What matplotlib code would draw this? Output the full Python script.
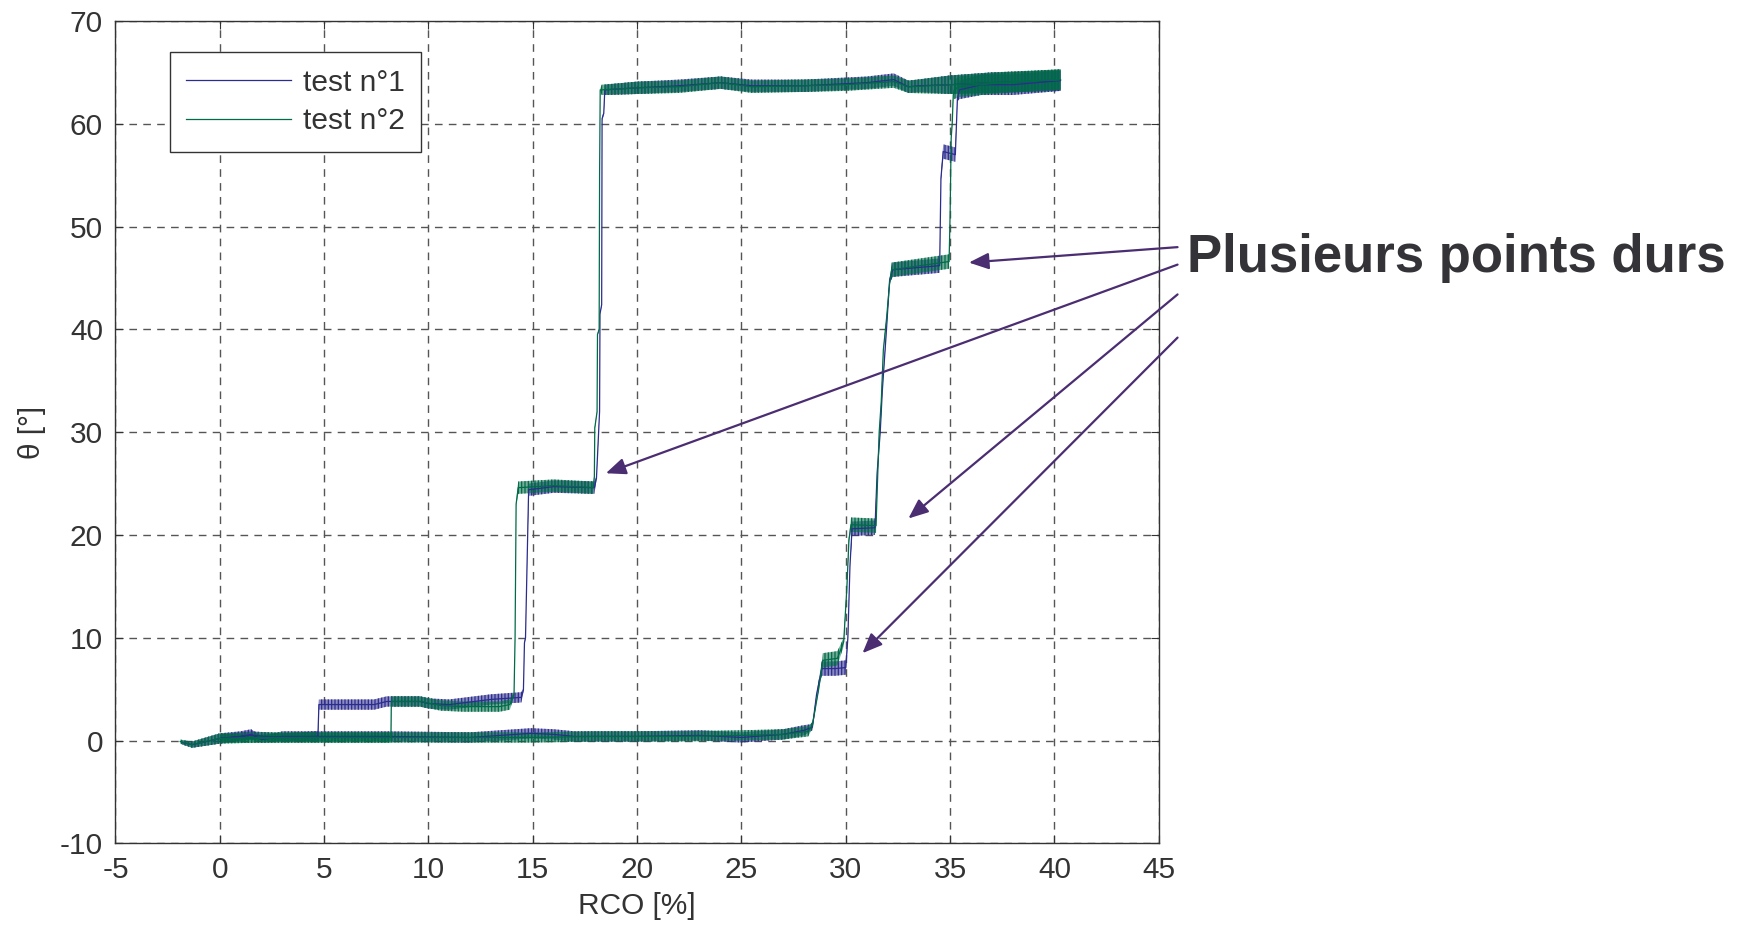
import numpy as np
import matplotlib
matplotlib.use('Agg')
import matplotlib.pyplot as plt
from matplotlib.colors import to_rgba

plt.rcParams['font.family'] = ['Liberation Sans', 'DejaVu Sans']
plt.rcParams['axes.unicode_minus'] = False
plt.rcParams['hatch.linewidth'] = 0.9

# essai 1 : montee (RCO croissant) puis descente
t1_up_x = [-1.8, -1.3, 0.0, 1.0, 1.5, 2.0, 3.0, 4.7, 8.0, 12.0, 14.9, 16.0, 17.0, 20.0,
           23.0, 25.0, 27.0, 28.0, 28.4, 28.6, 28.85, 29.5, 30.0, 30.1, 30.2, 30.3, 31.4,
           31.5, 31.65, 31.75, 31.95, 32.1, 32.25, 34.5, 34.56, 34.67, 35.25, 35.35, 35.45,
           36.5, 38.0, 40.3]
t1_up_y = [-0.2, -0.4, 0.2, 0.4, 0.6, 0.1, 0.4, 0.4, 0.4, 0.3, 0.7, 0.6, 0.4, 0.4,
           0.5, 0.3, 0.6, 1.0, 1.3, 4.5, 7.0, 7.0, 7.1, 10.0, 17.0, 20.6, 20.7,
           26.0, 30.0, 34.0, 40.0, 44.8, 45.8, 46.2, 54.7, 57.3, 57.0, 62.5, 63.3,
           63.8, 63.8, 64.2]
t1_up_w = [0.2, 0.3, 0.5, 0.5, 0.5, 0.3, 0.5, 0.5, 0.5, 0.5, 0.5, 0.5, 0.5, 0.5,
           0.5, 0.5, 0.5, 0.5, 0.3, 0.1, 0.7, 0.7, 0.7, 0.2, 0.2, 0.7, 0.7,
           0.2, 0.2, 0.2, 0.2, 0.3, 0.7, 0.7, 0.2, 0.7, 0.7, 0.3, 0.9,
           1.0, 1.0, 1.0]
t1_down_x = [40.3, 37.0, 35.0, 33.5, 33.0, 32.3, 31.0, 28.0, 25.5, 24.0, 22.0, 20.0,
             18.45, 18.4, 18.32, 18.3, 18.22, 18.2, 18.05, 17.95, 16.0, 14.8, 14.65,
             14.6, 14.55, 14.45, 13.0, 11.0, 10.0, 9.6, 8.0, 7.4, 4.75, 4.7, 3.0, 1.5, 0.0]
t1_down_y = [64.2, 64.0, 63.8, 63.7, 63.6, 64.3, 64.0, 63.7, 63.7, 64.0, 63.7, 63.5,
             63.3, 61.0, 60.5, 42.4, 41.5, 32.0, 25.5, 24.6, 24.7, 24.4, 10.0,
             9.5, 4.9, 4.2, 4.0, 3.5, 3.6, 3.8, 3.8, 3.5, 3.5, 0.4, 0.3, 0.5, 0.2]
t1_down_w = [1.0, 1.0, 0.9, 0.6, 0.6, 0.6, 0.6, 0.6, 0.6, 0.6, 0.6, 0.6,
             0.5, 0.2, 0.2, 0.1, 0.1, 0.1, 0.2, 0.6, 0.6, 0.6, 0.1,
             0.1, 0.2, 0.5, 0.5, 0.5, 0.5, 0.5, 0.5, 0.5, 0.5, 0.5, 0.4, 0.4, 0.4]

# essai 2
t2_up_x = [-1.9, -1.35, 0.0, 2.0, 4.0, 8.0, 12.0, 15.0, 18.0, 22.0, 25.0, 27.0, 28.2,
           28.4, 28.7, 28.9, 29.6, 29.9, 30.05, 30.15, 30.25, 31.45, 31.5, 31.6, 31.7,
           31.8, 31.95, 32.1, 32.2, 34.95, 35.0, 35.05, 35.1, 35.15, 35.2, 35.4, 37.0, 40.3]
t2_up_y = [-0.1, -0.4, 0.2, 0.3, 0.3, 0.3, 0.3, 0.3, 0.4, 0.4, 0.5, 0.6, 0.9,
           1.5, 5.0, 7.8, 8.0, 9.6, 14.8, 19.5, 21.0, 20.9, 24.0, 30.0, 33.0,
           38.0, 41.0, 44.5, 45.8, 46.6, 51.2, 58.6, 60.0, 62.8, 63.3, 63.6, 63.9, 64.3]
t2_up_w = [0.2, 0.3, 0.5, 0.5, 0.5, 0.5, 0.5, 0.5, 0.5, 0.5, 0.5, 0.5, 0.5,
           0.3, 0.1, 0.7, 0.7, 0.4, 0.2, 0.3, 0.7, 0.7, 0.2, 0.2, 0.2,
           0.2, 0.2, 0.3, 0.7, 0.7, 0.1, 0.1, 0.1, 0.3, 0.9, 1.0, 1.0, 1.0]
t2_down_x = [40.3, 37.0, 35.0, 33.0, 32.3, 30.0, 28.0, 25.5, 24.0, 22.0, 20.0, 18.3,
             18.23, 18.2, 18.18, 18.1, 18.08, 17.97, 17.95, 17.9, 16.0, 14.3, 14.2,
             14.15, 14.1, 13.9, 13.4, 11.7, 10.6, 9.6, 8.22, 8.2, 6.0, 4.0, 2.0, 0.0]
t2_down_y = [64.3, 64.0, 63.8, 63.6, 64.1, 63.8, 63.7, 63.6, 64.0, 63.6, 63.5, 63.3,
             63.3, 55.0, 40.0, 39.5, 32.0, 30.4, 25.7, 24.6, 24.8, 24.6, 23.0,
             10.0, 4.5, 3.5, 3.3, 3.3, 3.4, 3.8, 3.8, 0.3, 0.3, 0.3, 0.2, 0.2]
t2_down_w = [1.0, 1.0, 0.9, 0.6, 0.6, 0.6, 0.6, 0.6, 0.6, 0.6, 0.6, 0.5,
             0.1, 0.1, 0.1, 0.1, 0.1, 0.1, 0.2, 0.6, 0.6, 0.6, 0.2,
             0.1, 0.2, 0.5, 0.5, 0.5, 0.5, 0.5, 0.5, 0.5, 0.5, 0.5, 0.4, 0.4]

labels = ['test n°1', 'test n°2']
colors = ['#2c2c8e', '#006b48']

xticks = np.arange(-5, 46, 5)
yticks = np.arange(-10, 71, 10)

annot_text = 'Plusieurs points durs'
# pointes des fleches (coordonnees des donnees) et depart a droite du cadre
arrow_heads = [(35.9, 46.5), (18.5, 26.0), (33.0, 21.6), (30.8, 8.5)]
arrow_tails = [(45.9, 48.0), (45.9, 46.3), (45.9, 43.4), (45.9, 39.2)]


def draw_branch(ax, x, y, w, color):
    x = np.array(x)
    y = np.array(y)
    w = np.array(w)
    # bande de bruit de mesure autour de la courbe
    ax.fill_between(x, y - w, y + w, facecolor=to_rgba(color, 0.55),
                    edgecolor=color, hatch='|||||', linewidth=0, zorder=2)


def main():
    fig = plt.figure(figsize=(17.42, 9.25), dpi=100)
    ax = fig.add_axes([0.0663, 0.0883, 0.5989, 0.8890])

    series = [
        (t1_up_x, t1_up_y, t1_up_w, t1_down_x, t1_down_y, t1_down_w),
        (t2_up_x, t2_up_y, t2_up_w, t2_down_x, t2_down_y, t2_down_w),
    ]
    for (ux, uy, uw, dx, dy, dw), lab, col in zip(series, labels, colors):
        draw_branch(ax, ux, uy, uw, col)
        draw_branch(ax, dx, dy, dw, col)
        ax.plot(ux + dx, uy + dy, color=col, lw=0.9, label=lab, zorder=3)

    ax.set_xlim(-5, 45)
    ax.set_ylim(-10, 70)
    ax.set_xticks(xticks)
    ax.set_yticks(yticks)
    ax.grid(True, color='#555555', linestyle=(0, (5.5, 4.5)), lw=1.0)
    ax.set_axisbelow(True)
    ax.tick_params(direction='in', length=6, width=0.8, top=True, right=True,
                   labelsize=21.5, colors='#333333', pad=9)
    for sp in ax.spines.values():
        sp.set_color('#333333')
        sp.set_linewidth(1.0)

    ax.set_xlabel('RCO [%]', fontsize=21.5, color='#333333', labelpad=6)
    ax.set_ylabel('θ [°]', fontsize=21.5, color='#333333', labelpad=10)

    leg = ax.legend(loc='upper left', bbox_to_anchor=(0.052, 0.962), borderaxespad=0,
                    fancybox=False, framealpha=1, fontsize=21.5, handlelength=3.5,
                    handletextpad=0.4, borderpad=0.55, labelspacing=0.35)
    leg.get_frame().set_edgecolor('#333333')
    leg.get_frame().set_linewidth(1.0)
    for t in leg.get_texts():
        t.set_color('#333333')

    for head, tail in zip(arrow_heads, arrow_tails):
        ax.annotate('', xy=head, xytext=tail, xycoords='data', textcoords='data',
                    annotation_clip=False,
                    arrowprops=dict(arrowstyle='-|>,head_length=0.6,head_width=0.25',
                                    mutation_scale=20, color='#4b2d72', lw=1.6,
                                    shrinkA=0, shrinkB=0))

    fig.text(0.6814, 0.721, annot_text, fontsize=38, fontweight='bold',
             color='#333338', ha='left', va='center')

    fig.savefig('out.png', dpi=100)


if __name__ == '__main__':
    main()
